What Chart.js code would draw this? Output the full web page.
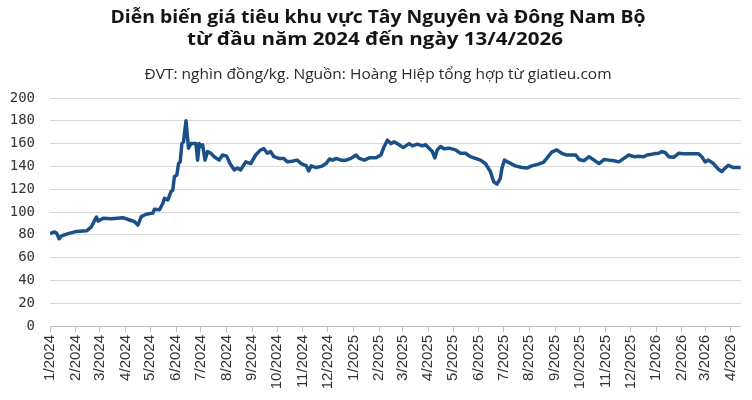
<!DOCTYPE html>
<html>
<head>
<meta charset="utf-8">
<script src="https://cdn.jsdelivr.net/npm/chart.js@4.4.1/dist/chart.umd.min.js"></script>
<style>
  html, body { margin: 0; padding: 0; background: #fff; }
</style>
</head>
<body>
<canvas id="line-chart" width="752" height="400"></canvas>
<script>
var titleLines = ['Diễn biến giá tiêu khu vực Tây Nguyên và Đông Nam Bộ', 'từ đầu năm 2024 đến ngày 13/4/2026'];
var subTitle = 'ĐVT: nghìn đồng/kg. Nguồn: Hoàng Hiệp tổng hợp từ giatieu.com';

var tickLabels = ['1/2024','2/2024','3/2024','4/2024','5/2024','6/2024','7/2024','8/2024','9/2024','10/2024','11/2024','12/2024',
  '1/2025','2/2025','3/2025','4/2025','5/2025','6/2025','7/2025','8/2025','9/2025','10/2025','11/2025','12/2025',
  '1/2026','2/2026','3/2026','4/2026'];

// ngay lay mau (doc tu hinh)
var dates = [
  '2024-01-01','2024-01-06','2024-01-09','2024-01-12','2024-01-15','2024-01-23',
  '2024-02-02','2024-02-14','2024-02-20','2024-02-24','2024-02-26','2024-02-28',
  '2024-03-05','2024-03-15','2024-03-29',
  '2024-04-06','2024-04-12','2024-04-16','2024-04-20','2024-04-26',
  '2024-05-04','2024-05-06','2024-05-12','2024-05-16','2024-05-18','2024-05-22','2024-05-26','2024-05-28','2024-05-30',
  '2024-06-02','2024-06-04','2024-06-06','2024-06-08','2024-06-10','2024-06-13','2024-06-16','2024-06-19','2024-06-25','2024-06-27','2024-06-29',
  '2024-07-01','2024-07-03','2024-07-06','2024-07-09','2024-07-13','2024-07-17','2024-07-23','2024-07-27',
  '2024-08-01','2024-08-05','2024-08-10','2024-08-14','2024-08-18','2024-08-24','2024-08-30',
  '2024-09-05','2024-09-11','2024-09-15','2024-09-19','2024-09-23','2024-09-27',
  '2024-10-03','2024-10-09','2024-10-13','2024-10-19','2024-10-25','2024-10-30',
  '2024-11-05','2024-11-08','2024-11-11','2024-11-17','2024-11-23','2024-11-29',
  '2024-12-03','2024-12-07','2024-12-11','2024-12-17','2024-12-23','2024-12-29',
  '2025-01-04','2025-01-08','2025-01-14','2025-01-20','2025-01-28',
  '2025-02-03','2025-02-07','2025-02-11','2025-02-15','2025-02-19','2025-02-25',
  '2025-03-02','2025-03-09','2025-03-13','2025-03-19','2025-03-25','2025-03-29',
  '2025-04-02','2025-04-06','2025-04-09','2025-04-12','2025-04-16','2025-04-20','2025-04-26',
  '2025-05-04','2025-05-10','2025-05-16','2025-05-22','2025-05-28',
  '2025-06-03','2025-06-09','2025-06-15','2025-06-19','2025-06-23','2025-06-27','2025-06-29',
  '2025-07-02','2025-07-07','2025-07-15','2025-07-23','2025-07-29',
  '2025-08-04','2025-08-12','2025-08-18','2025-08-22','2025-08-28',
  '2025-09-03','2025-09-09','2025-09-15','2025-09-20','2025-09-26','2025-09-30',
  '2025-10-06','2025-10-12','2025-10-18','2025-10-24','2025-10-30',
  '2025-11-05','2025-11-11','2025-11-17','2025-11-23','2025-11-29',
  '2025-12-05','2025-12-11','2025-12-17','2025-12-21','2025-12-29',
  '2026-01-04','2026-01-08','2026-01-12','2026-01-16','2026-01-22','2026-01-28',
  '2026-02-03','2026-02-11','2026-02-21','2026-02-25',
  '2026-03-01','2026-03-05','2026-03-11','2026-03-17','2026-03-21','2026-03-25','2026-03-29',
  '2026-04-04','2026-04-13'
];

// gia tieu, nghin dong/kg
var prices = [
  81, 82.5, 81.5, 76.5, 79, 81,
  83, 83.5, 87, 93, 95.5, 92,
  94.5, 94, 95,
  93, 91.5, 88.5, 96, 98,
  99, 102.5, 102, 107.5, 112, 110.5, 118, 119, 131,
  132.5, 142.5, 144, 160, 161.5, 180, 156, 160, 160, 145.5, 160,
  157.5, 159, 145.5, 153, 151.5, 148.5, 145.5, 150,
  149, 142.5, 137, 138.5, 137, 144, 142.5,
  150, 154.5, 155.5, 151.5, 153, 148.5,
  147, 147, 144, 144.5, 145.5, 142.5,
  140.5, 136, 140.5, 139, 140, 142.5,
  146.5, 145.5, 147, 145.5, 145.5, 147,
  150, 147, 145.5, 147.5, 147.5,
  150, 157.5, 163, 160, 161.5, 159,
  156.5, 160, 158, 159.5, 158, 159,
  156, 153, 147.5, 154.5, 157.5, 155.5, 156,
  154.5, 151.5, 151.5, 148.5, 147,
  145.5, 142.5, 135.5, 126.5, 124.5, 129.5, 138.5,
  145.5, 143.5, 140.5, 139, 138.5,
  140.5, 142, 143.5, 147, 152.5,
  154.5, 151.5, 150, 150, 150, 146,
  145, 148.5, 145.5, 142.5, 146,
  145.5, 145, 144, 147, 150,
  148.5, 149, 148.5, 150, 151,
  151.5, 153, 152, 148.5, 148, 151.5,
  151, 151, 151, 148.5,
  144, 145.5, 142.5, 137.5, 135.5, 138.5, 141,
  139, 139
];

var DAY = 86400000;
var start = Date.UTC(2024, 0, 1);
function dayOf(iso) {
  var p = iso.split('-');
  return (Date.UTC(+p[0], +p[1] - 1, +p[2]) - start) / DAY;
}
function dayOfLabel(lbl) {
  var p = lbl.split('/');
  return (Date.UTC(+p[1], +p[0] - 1, 1) - start) / DAY;
}
var tickDays = tickLabels.map(dayOfLabel);
var points = dates.map(function(d, i) { return { x: dayOf(d), y: prices[i] }; });

// ve chu, co gian ngang cho vua be rong
function drawFitted(ctx, text, font, cx, y, w) {
  ctx.font = font;
  var k = w / ctx.measureText(text).width;
  ctx.save();
  ctx.translate(cx, y);
  ctx.scale(k, 1);
  ctx.fillText(text, 0, 0);
  ctx.restore();
}

var headerPlugin = {
  id: 'header',
  afterDraw: function(chart) {
    var ctx = chart.ctx;
    ctx.save();
    ctx.fillStyle = '#141414';
    ctx.textAlign = 'center';
    ctx.textBaseline = 'alphabetic';
    drawFitted(ctx, titleLines[0], 'bold 17px "Open Sans", sans-serif', 378, 23, 535);
    drawFitted(ctx, titleLines[1], 'bold 17px "Open Sans", sans-serif', 375, 45, 376);
    ctx.fillStyle = '#2a2a2a';
    drawFitted(ctx, subTitle, '15px "Open Sans", sans-serif', 378, 79, 467);
    ctx.restore();
  }
};

new Chart(document.getElementById('line-chart'), {
  type: 'line',
  data: {
    datasets: [{
      label: 'Giá tiêu',
      data: points,
      borderColor: '#1b4f87',
      borderWidth: 3.5,
      borderJoinStyle: 'round',
      pointRadius: 0,
      tension: 0,
      fill: false
    }]
  },
  options: {
    responsive: false,
    animation: false,
    layout: { padding: { top: 98, right: 10, bottom: 0, left: 0 } },
    plugins: {
      legend: { display: false },
      title: { display: false },
      tooltip: { enabled: false }
    },
    scales: {
      x: {
        type: 'linear',
        min: 0,
        max: dayOf('2026-04-13'),
        afterBuildTicks: function(scale) {
          scale.ticks = tickDays.map(function(v) { return { value: v }; });
        },
        afterFit: function(scale) { scale.height = 74; },
        grid: { display: true, drawOnChartArea: false, drawTicks: true, tickLength: 6, color: '#bfbfbf' },
        border: { display: true, color: '#bfbfbf' },
        ticks: {
          autoSkip: false,
          maxRotation: 90,
          minRotation: 90,
          padding: 3,
          color: '#333',
          font: { family: '"Liberation Sans", Arial, sans-serif', size: 15 },
          callback: function(value, index) { return tickLabels[index]; }
        }
      },
      y: {
        min: 0,
        max: 200,
        afterFit: function(scale) { scale.width = 50; },
        grid: { color: '#d9d9d9', drawTicks: false },
        border: { display: false },
        ticks: {
          stepSize: 20,
          padding: 15,
          color: '#333',
          font: { family: '"DejaVu Sans Mono", monospace', size: 14 }
        }
      }
    }
  },
  plugins: [headerPlugin]
});
</script>
</body>
</html>
